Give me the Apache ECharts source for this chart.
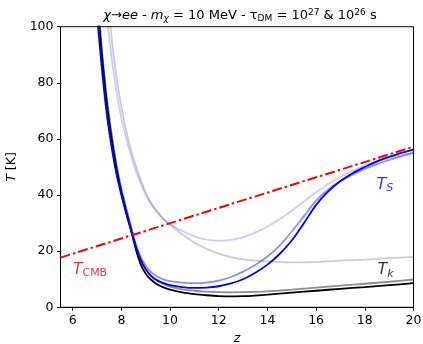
<!DOCTYPE html>
<html>
<head>
<meta charset="utf-8">
<script src="https://cdn.jsdelivr.net/npm/echarts@6/dist/echarts.min.js"></script>
<style>html,body{margin:0;padding:0;background:#fff}#c{width:423px;height:344px}</style>
</head>
<body>
<div id="c"></div>
<script>
// ---- data ----
var xTicks = [6, 8, 10, 12, 14, 16, 18, 20];
var yTicks = [0, 20, 40, 60, 80, 100];

var zCMB = [5.5, 20];
var tCMB = [17.71, 57.23];

// T_k, reference (black)
var zK1 = [7.0, 7.2, 7.4, 7.6, 7.8, 8.0, 8.2, 8.4, 8.6, 8.8, 9.0, 9.2, 9.4, 9.7, 10.0, 10.5, 11.0, 11.5, 12.0, 12.5, 13.0, 14, 15, 16, 17, 18, 19, 20];
var tK1 = [111, 90, 73, 60, 49.5, 41, 34, 27.5, 20.5, 15.2, 12.0, 10.0, 8.6, 7.2, 6.3, 5.3, 4.7, 4.3, 4.0, 3.9, 3.95, 4.5, 5.2, 5.9, 6.6, 7.2, 7.9, 8.6];
// T_k, tau = 1e27 (grey)
var zK2 = [7.0, 7.2, 7.4, 7.6, 7.8, 8.0, 8.2, 8.4, 8.6, 8.8, 9.0, 9.2, 9.4, 9.7, 10.0, 10.5, 11.0, 11.5, 12.0, 12.5, 13.0, 14, 15, 16, 17, 18, 19, 20];
var tK2 = [113, 92, 75, 62, 51, 42.5, 35.5, 28.7, 21.8, 16.8, 13.5, 11.3, 9.8, 8.4, 7.4, 6.4, 5.9, 5.6, 5.4, 5.35, 5.4, 5.7, 6.3, 7.0, 7.7, 8.4, 9.1, 9.9];
// T_k, tau = 1e26 (light grey)
var zK3 = [7.4, 7.6, 7.8, 8.0, 8.25, 8.5, 8.75, 9.0, 9.25, 9.5, 9.75, 10.0, 10.5, 11.0, 11.5, 12.0, 12.5, 13.0, 13.5, 14.0, 15, 16, 17, 18, 19, 20];
var tK3 = [118, 96, 82, 71.5, 61, 53, 46.5, 41, 36.8, 34, 31.3, 29.4, 26.0, 23.0, 20.8, 19.1, 17.9, 17.1, 16.6, 16.3, 16.0, 16.2, 16.6, 17.0, 17.5, 18.0];

// T_S, reference (blue)
var zS1 = [7.0, 7.2, 7.4, 7.6, 7.8, 8.0, 8.2, 8.4, 8.6, 8.8, 9.0, 9.2, 9.4, 9.7, 10.0, 10.5, 11.0, 11.5, 12.0, 12.5, 13.0, 13.5, 14.0, 14.5, 15.0, 15.5, 16.0, 16.5, 17.0, 17.5, 18.0, 18.5, 19.0, 19.5, 20.0];
var tS1 = [104, 85, 69, 57, 47.5, 40, 33.3, 27.2, 21.5, 16.8, 13.6, 11.4, 10.0, 8.7, 7.9, 7.2, 6.9, 7.0, 7.5, 8.5, 10.0, 12.3, 15.2, 19.0, 23.8, 30.0, 36.5, 41.3, 45.0, 47.8, 50.0, 52.0, 53.6, 55.0, 56.2];
// T_S, tau = 1e27 (medium blue)
var zS2 = [7.0, 7.2, 7.4, 7.6, 7.8, 8.0, 8.2, 8.4, 8.6, 8.8, 9.0, 9.2, 9.4, 9.7, 10.0, 10.5, 11.0, 11.5, 12.0, 12.5, 13.0, 13.5, 14.0, 14.5, 15.0, 15.5, 16.0, 16.5, 17.0, 17.5, 18.0, 18.5, 19.0, 19.5, 20.0];
var tS2 = [107, 87.5, 71, 58.5, 48.5, 41, 34, 28, 22.3, 17.8, 14.8, 12.7, 11.3, 10.0, 9.3, 8.8, 8.6, 8.8, 9.5, 10.8, 12.7, 15.1, 18.1, 22.0, 27.0, 32.5, 38.0, 42.0, 45.0, 47.3, 49.3, 51.0, 52.5, 53.8, 55.0];
// T_S, tau = 1e26 (light blue)
var zS3 = [7.3, 7.4, 7.6, 7.8, 8.0, 8.25, 8.5, 8.75, 9.0, 9.25, 9.5, 9.75, 10.0, 10.5, 11.0, 11.5, 12.0, 12.5, 13.0, 13.5, 14.0, 14.5, 15.0, 15.5, 16.0, 16.5, 17.0, 17.5, 18.0, 18.5, 19.0, 19.5, 20.0];
var tS3 = [112, 104, 89, 77, 67.5, 58.5, 51, 45, 40, 36.3, 33.5, 31.1, 29.7, 27.2, 25.3, 24.1, 23.7, 24.0, 25.0, 26.6, 28.8, 31.4, 34.4, 37.7, 40.9, 43.9, 46.5, 48.7, 50.5, 52.0, 53.2, 54.2, 55.0];

// label anchor points (data coords)
var labCMB = [6.0, 13.4];
var labS = [18.48, 43.6];
var labK = [18.52, 13.2];

function pairs(xs, ys) { return xs.map(function (x, i) { return [x, ys[i]]; }); }

var FONT = 'DejaVu Sans';
var FS = 12.5;
var chart = echarts.init(document.getElementById('c'), null, { renderer: 'canvas' });

function line(name, xs, ys, color, width, z) {
  return {
    name: name, type: 'line', data: pairs(xs, ys), showSymbol: false, symbol: 'none',
    smooth: 0.3, clip: true, z: z,
    lineStyle: { color: color, width: width }
  };
}

var option = {
  animation: false,
  backgroundColor: '#fff',
  title: {
    text: '{it|χ}→{it|ee} - {it|m}{subit|χ} = 10 MeV - τ{sub|DM} = 10{sup|27} & 10{sup|26} s',
    left: 235, top: 3, textAlign: 'center',
    textStyle: {
      fontFamily: FONT, fontSize: 13, fontWeight: 'normal', color: '#000',
      rich: {
        it: { fontFamily: FONT, fontStyle: 'italic', fontSize: 13, color: '#000' },
        subit: { fontFamily: FONT, fontStyle: 'italic', fontSize: 9, color: '#000', padding: [6, 0, 0, 0] },
        sub: { fontFamily: FONT, fontSize: 9, color: '#000', padding: [6, 0, 0, 0] },
        sup: { fontFamily: FONT, fontSize: 9, color: '#000', padding: [0, 0, 7, 0] }
      }
    }
  },
  grid: {
    left: 60.5, right: 9.5, top: 26.7, bottom: 36.7,
    outerBoundsMode: 'none', containLabel: false,
    show: true, borderColor: '#000', borderWidth: 1, backgroundColor: 'transparent'
  },
  xAxis: {
    type: 'value', min: 5.5, max: 20,
    name: 'z', nameLocation: 'middle', nameGap: 24,
    nameTextStyle: { fontFamily: FONT, fontSize: FS, fontStyle: 'italic', color: '#000' },
    axisLine: { show: true, onZero: false, lineStyle: { color: '#000', width: 1 } },
    axisTick: { show: true, length: 3.5, lineStyle: { color: '#000', width: 1 }, customValues: xTicks },
    axisLabel: { fontFamily: FONT, fontSize: FS, color: '#000', margin: 7, customValues: xTicks },
    splitLine: { show: false }
  },
  yAxis: {
    type: 'value', min: 0, max: 100, interval: 20,
    name: '{it|T} [K]', nameLocation: 'middle', nameGap: 39, nameRotate: 90,
    nameTextStyle: { fontFamily: FONT, fontSize: FS, color: '#000',
      rich: { it: { fontFamily: FONT, fontSize: FS, fontStyle: 'italic', color: '#000' } } },
    axisLine: { show: true, onZero: false, lineStyle: { color: '#000', width: 1 } },
    axisTick: { show: true, length: 3.5, lineStyle: { color: '#000', width: 1 } },
    axisLabel: { fontFamily: FONT, fontSize: FS, color: '#000', margin: 7 },
    splitLine: { show: false }
  },
  series: [
    line('Tk3', zK3, tK3, 'rgba(0,0,0,0.2)', 1.8, 1),
    line('TS3', zS3, tS3, 'rgba(0,0,255,0.2)', 1.8, 2),
    line('Tk2', zK2, tK2, 'rgba(0,0,0,0.45)', 1.8, 3),
    line('TS2', zS2, tS2, 'rgba(0,0,255,0.45)', 1.8, 4),
    line('Tk1', zK1, tK1, '#000000', 1.8, 5),
    line('TS1', zS1, tS1, '#0000ff', 1.8, 6),
    {
      name: 'TCMB', type: 'line', data: pairs(zCMB, tCMB), showSymbol: false, symbol: 'none', z: 7,
      lineStyle: { color: '#ff0000', width: 2, type: [10, 3, 2.5, 3] }
    },
    {
      type: 'scatter', symbolSize: 0, z: 8, silent: true,
      data: [
        { value: labCMB, label: { formatter: '{t|T}{s|CMB}', rich: {
          t: { fontFamily: FONT, fontSize: 16, fontStyle: 'italic', color: '#ff0000' },
          s: { fontFamily: FONT, fontSize: 11, color: '#ff0000', padding: [7, 0, 0, 0] } } } },
        { value: labS, label: { formatter: '{t|T}{s|S}', rich: {
          t: { fontFamily: FONT, fontSize: 16, fontStyle: 'italic', color: '#0000ff' },
          s: { fontFamily: FONT, fontSize: 11, fontStyle: 'italic', color: '#0000ff', padding: [7, 0, 0, 0] } } } },
        { value: labK, label: { formatter: '{t|T}{s|k}', rich: {
          t: { fontFamily: FONT, fontSize: 16, fontStyle: 'italic', color: '#000' },
          s: { fontFamily: FONT, fontSize: 11, fontStyle: 'italic', color: '#000', padding: [7, 0, 0, 0] } } } }
      ],
      label: { show: true, position: 'right', distance: 0 }
    }
  ]
};
chart.setOption(option);
</script>
</body>
</html>
